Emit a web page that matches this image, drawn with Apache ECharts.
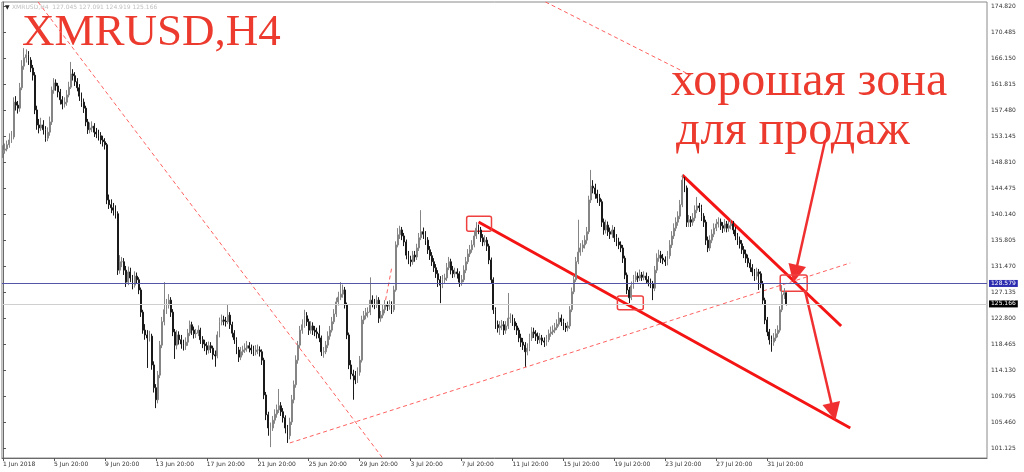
<!DOCTYPE html>
<html>
<head>
<meta charset="utf-8">
<script src="https://cdn.jsdelivr.net/npm/echarts@6/dist/echarts.min.js"></script>
<style>
  html, body { margin: 0; padding: 0; background: #fff; }
  #chart { width: 1024px; height: 472px; }
</style>
</head>
<body>
<div id="chart"></div>
<script>
// H4 bars, XMRUSD, 1 Jun - 2 Aug 2018
const firstOpen = 150.3;
const closes = [
  150.8,151.0,151.7,152.5,153.0,158.8,158.3,157.8,161.2,164.8,
  166.2,166.7,165.8,164.5,163.3,157.5,155.0,154.5,155.0,154.2,
  152.8,153.8,155.5,160.8,162.0,161.5,160.5,159.2,158.5,158.8,
  160.0,161.3,163.5,163.2,162.2,161.2,159.8,158.8,157.8,155.5,
  154.2,154.5,154.8,153.8,153.5,153.2,152.5,152.2,151.7,142.5,
  141.7,141.2,140.8,140.2,130.8,132.2,132.2,130.8,128.8,130.5,
  129.5,128.3,129.8,129.2,127.5,123.8,120.8,120.0,119.5,119.8,
  115.0,111.2,109.2,113.3,118.3,122.2,124.2,125.0,125.8,123.8,
  120.5,118.3,120.0,119.2,118.5,118.2,118.8,120.3,121.7,120.8,
  120.2,120.3,120.8,119.2,118.5,118.2,117.5,118.2,117.8,116.7,
  116.5,120.0,122.2,122.5,122.3,122.2,123.3,121.7,120.3,119.2,
  117.5,116.3,117.2,117.5,117.8,118.2,117.8,117.5,117.2,117.5,
  117.5,117.2,115.8,110.0,106.7,104.5,104.5,105.8,106.8,107.5,
  108.2,107.2,106.2,104.5,103.2,105.5,109.2,111.7,115.8,118.3,
  120.8,121.7,123.2,122.2,120.8,121.5,120.8,120.5,120.2,119.5,
  117.2,117.2,118.3,119.8,120.8,122.2,123.5,125.5,126.3,126.8,
  127.5,125.0,120.0,115.0,113.5,113.2,112.5,113.8,115.8,122.5,
  123.2,123.7,123.8,125.8,125.2,125.0,125.8,122.8,123.3,124.2,
  125.0,124.8,125.0,124.2,127.5,135.0,136.7,137.5,136.5,135.5,
  133.3,132.5,132.2,133.3,133.0,134.5,136.2,137.2,136.8,135.8,
  134.2,133.2,132.2,131.2,130.2,129.2,128.3,129.2,129.5,131.2,
  132.2,130.8,130.2,130.5,130.2,128.8,129.2,130.8,132.2,133.5,
  134.2,135.0,136.5,137.8,137.5,136.2,135.5,135.8,134.8,132.5,
  129.2,124.2,121.7,121.2,121.5,121.7,120.8,121.5,122.8,122.8,
  122.2,121.5,120.8,119.5,118.8,118.3,117.2,117.8,119.5,120.5,
  120.2,119.8,119.2,119.5,119.0,118.8,119.2,120.2,120.5,120.8,
  121.2,121.8,122.8,122.2,121.5,121.2,121.5,124.2,127.2,129.2,
  132.2,133.8,134.5,135.0,135.8,137.2,142.5,144.8,144.5,143.5,
  142.8,142.2,138.8,137.5,138.3,137.2,136.8,137.5,136.2,135.5,
  135.0,134.5,132.8,130.0,127.5,126.2,128.2,129.2,129.8,129.5,
  130.0,129.6,129.8,129.2,128.8,128.5,127.8,130.8,132.8,133.3,
  132.8,132.5,132.2,133.2,135.0,136.5,137.8,138.8,139.8,141.7,
  145.8,144.5,138.8,139.2,138.8,139.5,140.8,141.5,141.2,139.8,
  138.8,135.8,134.5,135.8,136.8,137.8,138.5,138.8,138.2,137.8,
  138.5,137.8,138.2,138.5,137.5,136.5,135.8,135.2,134.2,133.5,
  132.8,132.0,131.2,130.5,129.8,130.5,130.2,128.5,125.8,122.5,
  120.5,119.2,118.8,119.5,120.2,120.8,124.2,126.7,127.045,125.166
];
const highs = [
  151.6,151.9,152.4,153.6,154.0,159.6,159.8,159.0,162.0,165.8,
  167.8,167.6,167.3,166.3,165.0,163.8,158.2,156.0,156.2,155.8,
  154.8,154.6,156.4,161.4,162.8,162.6,162.0,161.0,159.8,159.6,
  160.8,162.2,165.5,164.3,163.8,162.8,161.8,160.4,159.4,158.2,
  156.0,155.4,155.6,155.3,154.5,154.2,153.8,153.2,152.8,152.0,
  143.4,142.6,142.0,141.6,140.6,133.3,133.0,132.8,131.5,131.4,
  131.2,130.0,130.6,130.4,129.6,127.9,124.2,121.8,120.8,120.7,
  120.2,115.6,111.8,114.0,119.0,123.0,128.8,126.0,126.8,126.3,
  124.3,121.0,120.8,120.6,120.0,119.2,119.6,121.0,122.4,122.2,
  121.4,121.0,121.6,121.2,119.8,119.2,118.8,118.9,118.8,118.2,
  117.4,120.6,122.9,123.4,123.2,123.0,125.0,123.8,122.2,120.8,
  119.6,118.0,118.0,118.2,118.6,119.0,118.8,118.4,118.2,118.3,
  118.4,118.1,117.6,116.2,110.5,107.2,105.4,106.5,107.6,108.4,
  111.0,108.8,107.8,106.6,105.0,106.2,110.0,112.4,116.6,119.0,
  121.5,122.6,124.2,123.8,122.7,122.3,122.1,121.5,121.2,121.6,
  119.9,118.0,119.0,120.6,121.5,123.0,124.3,126.2,127.2,128.8,
  128.4,128.0,125.4,120.4,115.8,114.2,114.0,114.6,116.5,123.2,
  124.0,124.5,124.6,129.6,126.6,126.0,126.6,126.3,124.0,125.0,
  125.8,125.6,125.8,125.6,128.2,135.6,137.8,138.2,138.0,137.0,
  135.9,134.0,133.2,134.0,134.0,135.2,137.0,140.8,137.9,137.3,
  136.3,134.8,133.8,132.8,131.8,130.8,129.8,130.0,130.2,132.0,
  133.0,132.7,131.5,131.2,131.1,130.6,130.0,131.6,133.0,134.3,
  135.0,135.8,137.3,138.8,138.4,138.0,136.8,136.6,136.3,135.2,
  132.9,129.6,124.6,122.4,122.3,122.5,122.3,122.3,127.0,123.6,
  123.4,122.8,122.0,121.2,120.2,119.5,118.8,118.6,120.2,121.3,
  121.2,120.8,120.4,120.3,120.0,119.6,120.0,120.9,121.4,121.6,
  122.0,122.6,123.8,123.4,122.7,122.0,122.2,124.8,127.9,130.0,
  133.0,139.2,135.3,135.8,136.6,138.0,143.2,147.5,145.8,145.2,
  144.2,143.5,142.6,139.4,139.2,138.9,137.9,138.3,138.0,136.8,
  136.2,135.6,135.0,133.2,130.4,128.0,128.9,130.0,130.6,130.4,
  130.9,130.5,130.6,130.4,129.8,129.4,129.0,131.5,133.6,134.2,
  134.0,133.5,133.1,134.0,135.8,137.3,138.6,139.6,140.6,142.5,
  146.7,146.3,144.9,140.0,139.8,140.3,141.6,143.0,142.0,141.7,
  140.3,139.2,136.4,136.6,137.6,138.6,139.3,139.6,139.4,138.8,
  139.3,139.0,139.0,139.3,139.0,138.0,137.0,136.4,135.8,134.8,
  134.2,133.4,132.6,131.8,131.0,131.2,131.0,130.6,129.0,126.2,
  123.0,121.0,119.9,120.3,121.0,121.6,124.8,128.3,127.8,127.091
];
const lows = [
  149.5,150.2,150.6,151.2,152.0,152.6,157.4,156.9,157.2,160.8,
  164.2,165.4,165.0,163.8,162.4,156.8,154.2,153.6,154.0,153.4,
  152.2,152.3,153.2,155.0,160.2,160.7,159.6,158.4,157.6,157.9,
  158.2,159.6,161.0,162.4,161.5,160.6,159.0,158.0,157.0,154.8,
  153.5,153.6,153.8,153.0,152.8,152.4,151.8,151.4,150.9,141.8,
  141.0,140.3,139.9,139.4,130.0,130.2,131.3,130.0,128.0,128.3,
  128.8,127.6,127.9,128.5,126.8,123.0,120.2,119.2,114.5,118.9,
  114.2,110.4,107.8,108.6,112.8,117.8,121.6,123.5,124.4,123.0,
  119.8,116.0,117.6,118.4,117.7,117.4,117.5,118.2,119.8,120.0,
  119.4,119.5,119.8,118.5,117.8,117.3,116.7,116.9,117.0,115.9,
  114.7,116.1,119.6,121.6,121.6,121.4,121.8,121.0,119.6,118.5,
  116.8,115.5,115.8,116.6,117.0,117.2,117.1,116.8,116.5,116.6,
  116.8,116.4,115.0,109.3,105.8,103.2,101.3,104.0,105.2,106.2,
  107.0,106.5,105.4,103.6,102.0,102.6,105.0,108.6,111.2,115.2,
  117.8,120.2,121.2,121.5,120.0,120.2,120.0,119.8,119.4,118.8,
  116.5,116.2,116.8,117.8,119.2,120.4,121.8,123.0,124.9,125.8,
  126.2,124.4,119.3,114.3,112.6,109.2,111.8,112.0,113.2,115.4,
  121.8,122.6,122.9,123.3,124.6,124.3,124.5,122.0,122.2,122.8,
  123.6,124.0,124.2,123.5,123.8,127.2,134.6,136.0,135.8,134.8,
  132.6,131.8,131.4,131.7,132.2,132.5,134.0,135.8,136.0,135.0,
  133.5,132.5,131.5,130.5,129.5,128.0,125.3,127.8,128.6,129.0,
  130.8,130.1,129.5,129.6,129.4,128.0,128.2,128.8,130.3,131.8,
  133.0,133.7,134.6,136.0,136.8,135.5,134.8,134.9,134.0,131.8,
  128.5,123.5,121.0,120.4,120.0,120.8,120.0,120.2,121.0,122.0,
  121.5,120.8,120.0,118.8,118.0,117.5,114.7,116.6,117.3,119.0,
  119.5,119.0,118.5,118.6,118.3,118.0,118.2,118.8,119.7,120.0,
  120.3,120.8,121.4,121.5,120.8,120.5,120.6,121.0,123.8,126.8,
  128.8,131.8,133.2,133.8,134.4,135.2,136.8,142.0,143.6,142.7,
  142.0,141.5,138.0,136.7,136.9,136.5,136.0,136.2,135.5,134.8,
  134.3,133.8,132.0,129.3,126.8,125.3,125.8,127.7,128.8,128.8,
  129.0,129.0,129.1,128.5,128.1,127.8,125.8,127.3,130.3,132.2,
  132.0,131.8,131.5,131.6,132.7,134.5,136.0,137.3,138.2,139.3,
  141.3,143.8,138.0,138.0,138.0,138.2,139.0,140.3,140.5,139.0,
  138.0,135.0,133.8,134.0,135.3,136.3,137.3,137.9,137.5,137.0,
  137.2,137.1,137.2,137.6,136.8,135.8,135.0,134.4,133.5,132.8,
  132.0,131.3,130.5,129.8,129.0,129.2,127.5,127.8,125.0,121.8,
  119.8,118.4,117.2,118.2,119.0,119.6,120.4,123.8,126.0,124.919
];

const tickLabels = [
  '1 Jun 2018','5 Jun 20:00','9 Jun 20:00','13 Jun 20:00','17 Jun 20:00',
  '21 Jun 20:00','25 Jun 20:00','29 Jun 20:00','3 Jul 20:00','7 Jul 20:00',
  '11 Jul 20:00','15 Jul 20:00','19 Jul 20:00','23 Jul 20:00','27 Jul 20:00',
  '31 Jul 20:00'
];
const priceTicks = [
  174.820,170.485,166.150,161.815,157.480,153.145,148.810,144.475,140.140,
  135.805,131.470,127.135,122.800,118.465,114.130,109.795,105.460,101.125
];
const bidLine = 128.579;
const lastClose = 125.166;

// drawn objects, in [bar index, price] units
const trendLines = [
  [224.0, 138.82, 399.1, 104.49],
  [320.0, 146.65, 394.8, 121.49]
];
const dashedLines = [
  [16.5, 175.5, 178.8, 99.5],
  [135.1, 102.0, 399.1, 132.0],
  [180.2, 125.8, 183.1, 131.2],
  [255.5, 175.5, 323.8, 163.3]
];
const arrows = [
  [387.3, 152.5, 373.2, 130.2],
  [377.9, 127.2, 391.1, 107.2]
];
const boxes = [
  [218.4, 230.1, 137.3, 139.8],
  [289.4, 301.6, 124.2, 126.5],
  [366.1, 378.8, 127.3, 130.0]
];

const slotCount = 464;
const LABEL_STEP = 24;

const categories = [];
for (let i = 0; i < slotCount; i++) categories.push(String(i));

const candles = closes.map((c, i) => [i === 0 ? firstOpen : closes[i - 1], c, lows[i], highs[i]]);

const showTick = (idx) => idx % LABEL_STEP === 0 && idx / LABEL_STEP < tickLabels.length;
const seg = (l) => ({ coords: [[l[0], l[1]], [l[2], l[3]]] });

const chart = echarts.init(document.getElementById('chart'), null, { renderer: 'canvas' });

chart.setOption({
  animation: false,
  backgroundColor: '#ffffff',
  grid: {
    left: 1, right: 37, top: 2, bottom: 14,
    show: true, borderColor: '#8a8a8a', borderWidth: 1
  },
  xAxis: [
    {
      type: 'category',
      data: categories,
      boundaryGap: true,
      axisLine: { lineStyle: { color: '#6a6a6a' } },
      axisTick: { show: true, interval: showTick, alignWithLabel: true, length: 3, lineStyle: { color: '#555' } },
      axisLabel: {
        interval: showTick,
        formatter: (v, idx) => tickLabels[idx / LABEL_STEP] || '',
        align: 'left', margin: 3,
        fontFamily: 'DejaVu Sans', fontSize: 6, color: '#333'
      },
      splitLine: { show: false }
    },
    { type: 'value', min: -0.5, max: slotCount - 0.5, show: false }
  ],
  yAxis: {
    type: 'value',
    position: 'right',
    min: 99.49, max: 175.49,
    axisLine: { show: true, lineStyle: { color: '#6a6a6a' } },
    axisTick: { show: true, customValues: priceTicks, length: 3, lineStyle: { color: '#555' } },
    axisLabel: {
      customValues: priceTicks,
      formatter: (v) => v.toFixed(3),
      margin: 4, fontFamily: 'DejaVu Sans', fontSize: 6, color: '#333'
    },
    splitLine: { show: false }
  },
  graphic: [
    { type: 'text', left: 5, top: 4, style: { text: '▼', font: '6px DejaVu Sans', fill: '#222' } },
    { type: 'text', left: 12, top: 4, style: { text: 'XMRUSD,H4  127.045 127.091 124.919 125.166', font: '6px DejaVu Sans', fill: '#c0c0c0' } },
    { type: 'text', left: 22, top: 11, style: { text: 'XMRUSD,H4', font: '45px "Liberation Serif"', fill: '#ec3b2e' } },
    { type: 'text', left: 671, top: 58, style: { text: 'хорошая зона', font: '48px "Liberation Serif"', fill: '#ec3b2e' } },
    { type: 'text', left: 676, top: 107, style: { text: 'для продаж', font: '48px "Liberation Serif"', fill: '#ec3b2e' } }
  ],
  series: [
    {
      type: 'candlestick',
      data: candles,
      barWidth: 1.4,
      itemStyle: {
        color: '#858585', borderColor: '#858585',
        color0: '#0a0a0a', borderColor0: '#1a1a1a',
        borderWidth: 1
      },
      markLine: {
        silent: true,
        symbol: 'none',
        data: [
          {
            yAxis: bidLine,
            lineStyle: { color: '#5454a8', width: 1, type: 'solid' },
            label: { position: 'end', formatter: bidLine.toFixed(3), distance: 2,
              backgroundColor: '#2b2bb0', color: '#fff', padding: [1, 2, 0, 2],
              fontFamily: 'DejaVu Sans', fontSize: 6 }
          },
          {
            yAxis: lastClose,
            lineStyle: { color: '#cfcfcf', width: 1, type: 'solid' },
            label: { position: 'end', formatter: lastClose.toFixed(3), distance: 2,
              backgroundColor: '#000', color: '#fff', padding: [1, 2, 0, 2],
              fontFamily: 'DejaVu Sans', fontSize: 6 }
          }
        ]
      }
    },
    {
      type: 'lines',
      coordinateSystem: 'cartesian2d',
      xAxisIndex: 1, yAxisIndex: 0,
      data: dashedLines.map(seg),
      symbol: ['none', 'none'],
      lineStyle: { color: '#ff6060', width: 1, type: [4, 3], opacity: 1 },
      silent: true
    },
    {
      type: 'lines',
      coordinateSystem: 'cartesian2d',
      xAxisIndex: 1, yAxisIndex: 0,
      data: trendLines.map(seg),
      symbol: ['none', 'none'],
      lineStyle: { color: '#f41414', width: 3, opacity: 1 },
      silent: true
    },
    {
      type: 'lines',
      coordinateSystem: 'cartesian2d',
      xAxisIndex: 1, yAxisIndex: 0,
      data: arrows.map(seg),
      symbol: ['none', 'triangle'],
      symbolSize: [0, 18],
      lineStyle: { color: '#f03030', width: 2.5, opacity: 1 },
      itemStyle: { color: '#f03030' },
      silent: true
    },
    {
      type: 'custom',
      xAxisIndex: 1, yAxisIndex: 0,
      data: boxes,
      silent: true,
      renderItem: (params, api) => {
        const a = api.coord([api.value(0), api.value(3)]);
        const b = api.coord([api.value(1), api.value(2)]);
        return {
          type: 'rect',
          shape: { x: a[0], y: a[1], width: b[0] - a[0], height: b[1] - a[1], r: 2 },
          style: { fill: 'none', stroke: '#ef4040', lineWidth: 1.5 }
        };
      }
    }
  ]
});
</script>
</body>
</html>
